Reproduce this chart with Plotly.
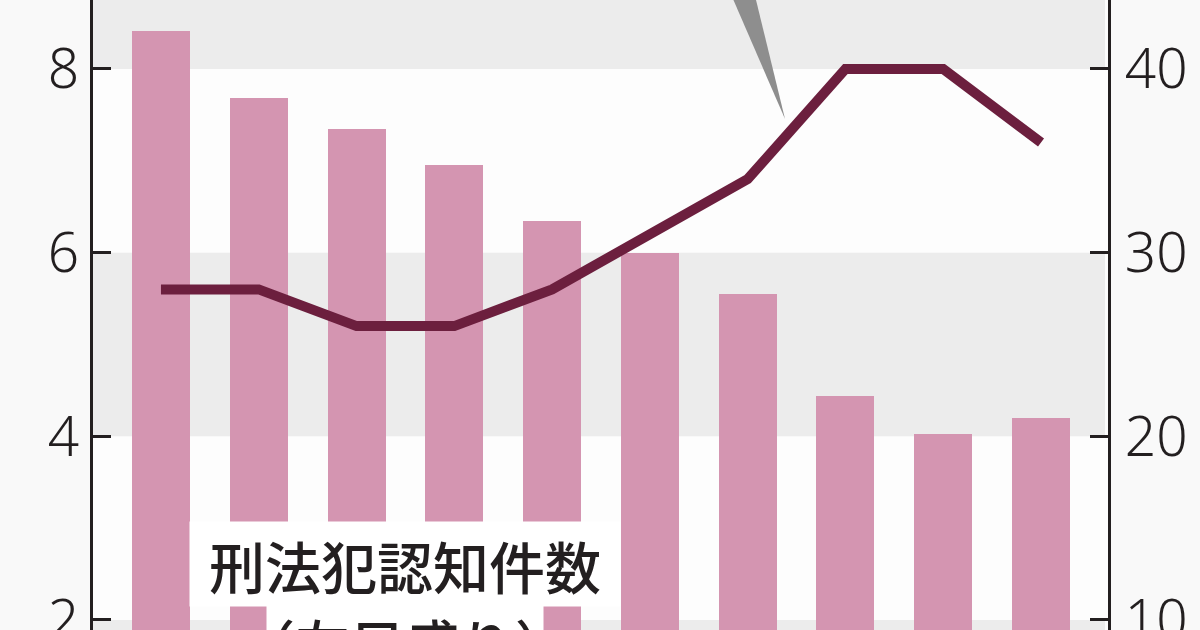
import plotly.graph_objects as go

# 10 periods, axis labels are not visible in the crop
periods = list(range(10))
crime_counts = [8.41, 7.68, 7.35, 6.95, 6.34, 6.0, 5.55, 4.44, 4.02, 4.2]   # left scale
line_values = [28, 28, 26, 26, 28, 31, 34, 40, 40, 36]                      # right scale
left_ticks = [2, 4, 6, 8]
right_ticks = [10, 20, 30, 40]
band_ranges = [(0, 2), (4, 6), (8, 10)]

BAR = "#d495b1"
LINE = "#6c1f3e"
INK = "#231f20"
BAND = "#ececec"

fig = go.Figure()

fig.add_trace(go.Bar(x=periods, y=crime_counts, width=0.593,
                     marker=dict(color=BAR, line=dict(width=0)),
                     yaxis="y", showlegend=False, hoverinfo="skip"))
fig.add_trace(go.Scatter(x=periods, y=line_values, mode="lines",
                         line=dict(color=LINE, width=10),
                         yaxis="y2", showlegend=False, hoverinfo="skip"))

for lo, hi in band_ranges:
    fig.add_shape(type="rect", xref="paper", yref="y", x0=0, x1=0.997, y0=lo, y1=hi,
                  fillcolor=BAND, line=dict(width=0), layer="below")

# pointer of the callout above the crop
fig.add_shape(type="path", xref="paper", yref="paper",
              path="M 0.6256 1.02 L 0.6502 1.02 L 0.6818 0.811 Z",
              fillcolor="#8e8e8e", line=dict(width=0))

fig.add_annotation(x=2.5, y=3.078, xref="x", yref="y", yanchor="top",
                   text="刑法犯認知件数", showarrow=False,
                   width=430, height=84, bgcolor="white", borderpad=0,
                   font=dict(family="Noto Sans CJK JP", size=56, color=INK, weight=500))
fig.add_annotation(x=2.5, y=2.163, xref="x", yref="y", yanchor="top",
                   text="（左目盛り）", showarrow=False,
                   width=276, height=72, bgcolor="white", borderpad=0,
                   font=dict(family="Noto Sans CJK JP", size=55, color=INK, weight=500))

axis_style = dict(showgrid=False, zeroline=False, showline=True, linecolor=INK, linewidth=2.5,
                  ticks="inside", ticklen=18, tickwidth=2.5, tickcolor=INK,
                  tickfont=dict(family="Noto Sans", size=55, color=INK, weight=300),
                  ticklabeloverflow="allow", automargin=False)

fig.update_layout(
    width=1200, height=630,
    margin=dict(l=93, r=92, t=0, b=0),
    paper_bgcolor="#f9f9f9", plot_bgcolor="#fdfdfd",
    bargap=0,
    xaxis=dict(range=[-0.695, 9.685], showticklabels=False, showgrid=False,
               zeroline=False, showline=False, ticks="", automargin=False),
    yaxis=dict(range=[1.891, 8.751], tickvals=left_ticks, ticklabelstandoff=0, **axis_style),
    yaxis2=dict(range=[9.455, 43.755], tickvals=right_ticks, overlaying="y", side="right",
                ticklabelstandoff=3, **axis_style),
)

fig.write_html("out.html", config={"displayModeBar": False},
               post_script="document.body.style.margin='0';")
